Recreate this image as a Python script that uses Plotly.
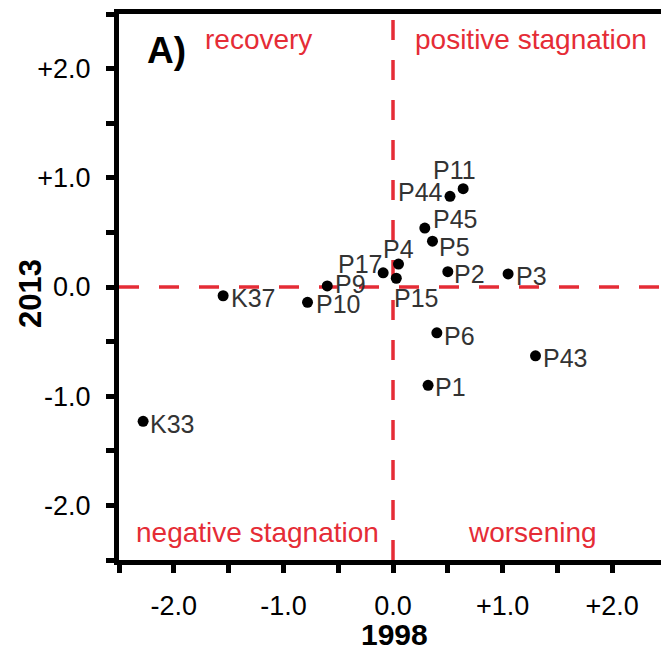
import plotly.graph_objects as go

# ---- data ----
names = ["P11", "P44", "P45", "P5", "P4", "P17", "P15", "P2", "P3",
         "P9", "P10", "K37", "P6", "P43", "P1", "K33"]
x1998 = [0.64, 0.52, 0.29, 0.36, 0.05, -0.09, 0.03, 0.50, 1.05,
         -0.60, -0.78, -1.55, 0.40, 1.30, 0.32, -2.28]
y2013 = [0.90, 0.83, 0.54, 0.42, 0.21, 0.13, 0.08, 0.14, 0.12,
         0.01, -0.14, -0.08, -0.42, -0.63, -0.90, -1.23]
quadrants = ["recovery", "positive stagnation", "negative stagnation", "worsening"]
xticks = [-2, -1, 0, 1, 2]
xticklabels = ["-2.0", "-1.0", "0.0", "+1.0", "+2.0"]
yticks = [-2, -1, 0, 1, 2]
yticklabels = ["-2.0", "-1.0", "0.0", "+1.0", "+2.0"]

# ---- style (label placement) ----
label_style = {
    "P11": ("center", -9, 19), "P44": ("right", -5, 4), "P45": ("left", 6, 9),
    "P5": ("left", 5, -6), "P4": ("center", 0, 15), "P17": ("right", 1, 9),
    "P15": ("left", -4, -20), "P2": ("left", 4, -2), "P3": ("left", 6, -2),
    "P9": ("left", 6, 2), "P10": ("left", 6, -2), "K37": ("left", 6, -2),
    "P6": ("left", 5, -3), "P43": ("left", 5, -2), "P1": ("left", 5, -2),
    "K33": ("left", 5, -3),
}
quad_pos = [(-1.227, 2.27), (1.255, 2.27), (-1.238, -2.25), (1.27, -2.25)]
RED = "#e52c36"
FONT = "Liberation Sans, Arial, sans-serif"

W, H = 661, 651
L, R, T, B = 119, 0, 14, 91
pw, ph = W - L - R, H - T - B

fig = go.Figure()
fig.add_trace(go.Scatter(x=x1998, y=y2013, mode="markers",
                         marker=dict(color="black", size=11),
                         hoverinfo="text", text=names, showlegend=False))

ann = []
for n, x, y in zip(names, x1998, y2013):
    anc, dx, dy = label_style[n]
    ann.append(dict(x=x, y=y, xref="x", yref="y", text=n, showarrow=False,
                    xanchor=anc, yanchor="middle", xshift=dx, yshift=dy,
                    font=dict(size=25, color="#333333", family=FONT)))
for q, (qx, qy) in zip(quadrants, quad_pos):
    ann.append(dict(x=qx, y=qy, xref="x", yref="y", text=q, showarrow=False,
                    xanchor="center", yanchor="middle",
                    font=dict(size=28, color=RED, family=FONT)))
ann.append(dict(x=-2.07, y=2.17, xref="x", yref="y", text="<b>A)</b>", showarrow=False,
                xanchor="center", yanchor="middle",
                font=dict(size=37, color="black", family=FONT)))
ann.append(dict(xref="paper", yref="paper", x=(394 - L) / pw, y=(H - B - 634) / ph,
                text="<b>1998</b>", showarrow=False, xanchor="center", yanchor="middle",
                font=dict(size=30, color="black", family=FONT)))
ann.append(dict(xref="paper", yref="paper", x=(30 - L) / pw, y=(H - B - 294) / ph,
                text="<b>2013</b>", showarrow=False, xanchor="center", yanchor="middle",
                textangle=-90, font=dict(size=31, color="black", family=FONT)))

fig.add_shape(type="line", x0=0, x1=0, y0=-2.5, y1=2.5, xref="x", yref="y",
              line=dict(color=RED, width=3.5, dash="20px,20px"), layer="below")
fig.add_shape(type="line", x0=-2.5, x1=2.445, y0=0, y1=0, xref="x", yref="y",
              line=dict(color=RED, width=3.5, dash="20px,20px"), layer="below")

fig.update_layout(
    width=W, height=H, margin=dict(l=L, r=R, t=T, b=B),
    paper_bgcolor="white", plot_bgcolor="white",
    annotations=ann, font=dict(family=FONT),
    xaxis=dict(range=[-2.5, 2.445], showgrid=False, zeroline=False,
               showline=True, linecolor="black", linewidth=5, mirror=True,
               ticks="outside", ticklen=8, tickwidth=5, tickcolor="black",
               tickvals=xticks, ticktext=xticklabels,
               tickfont=dict(size=27, color="black", family=FONT),
               ticklabelstandoff=10,
               minor=dict(dtick=0.5, tick0=0, ticks="outside", ticklen=8, tickwidth=5,
                          tickcolor="black")),
    yaxis=dict(range=[-2.5, 2.5], showgrid=False, zeroline=False,
               showline=True, linecolor="black", linewidth=5, mirror=False,
               ticks="outside", ticklen=8, tickwidth=5, tickcolor="black",
               tickvals=yticks, ticktext=yticklabels,
               tickfont=dict(size=27, color="black", family=FONT),
               ticklabelstandoff=10,
               minor=dict(dtick=0.5, tick0=0, ticks="outside", ticklen=8, tickwidth=5,
                          tickcolor="black")),
)
fig.write_html("out.html", config={"displayModeBar": False},
               post_script="document.body.style.margin='0';")
